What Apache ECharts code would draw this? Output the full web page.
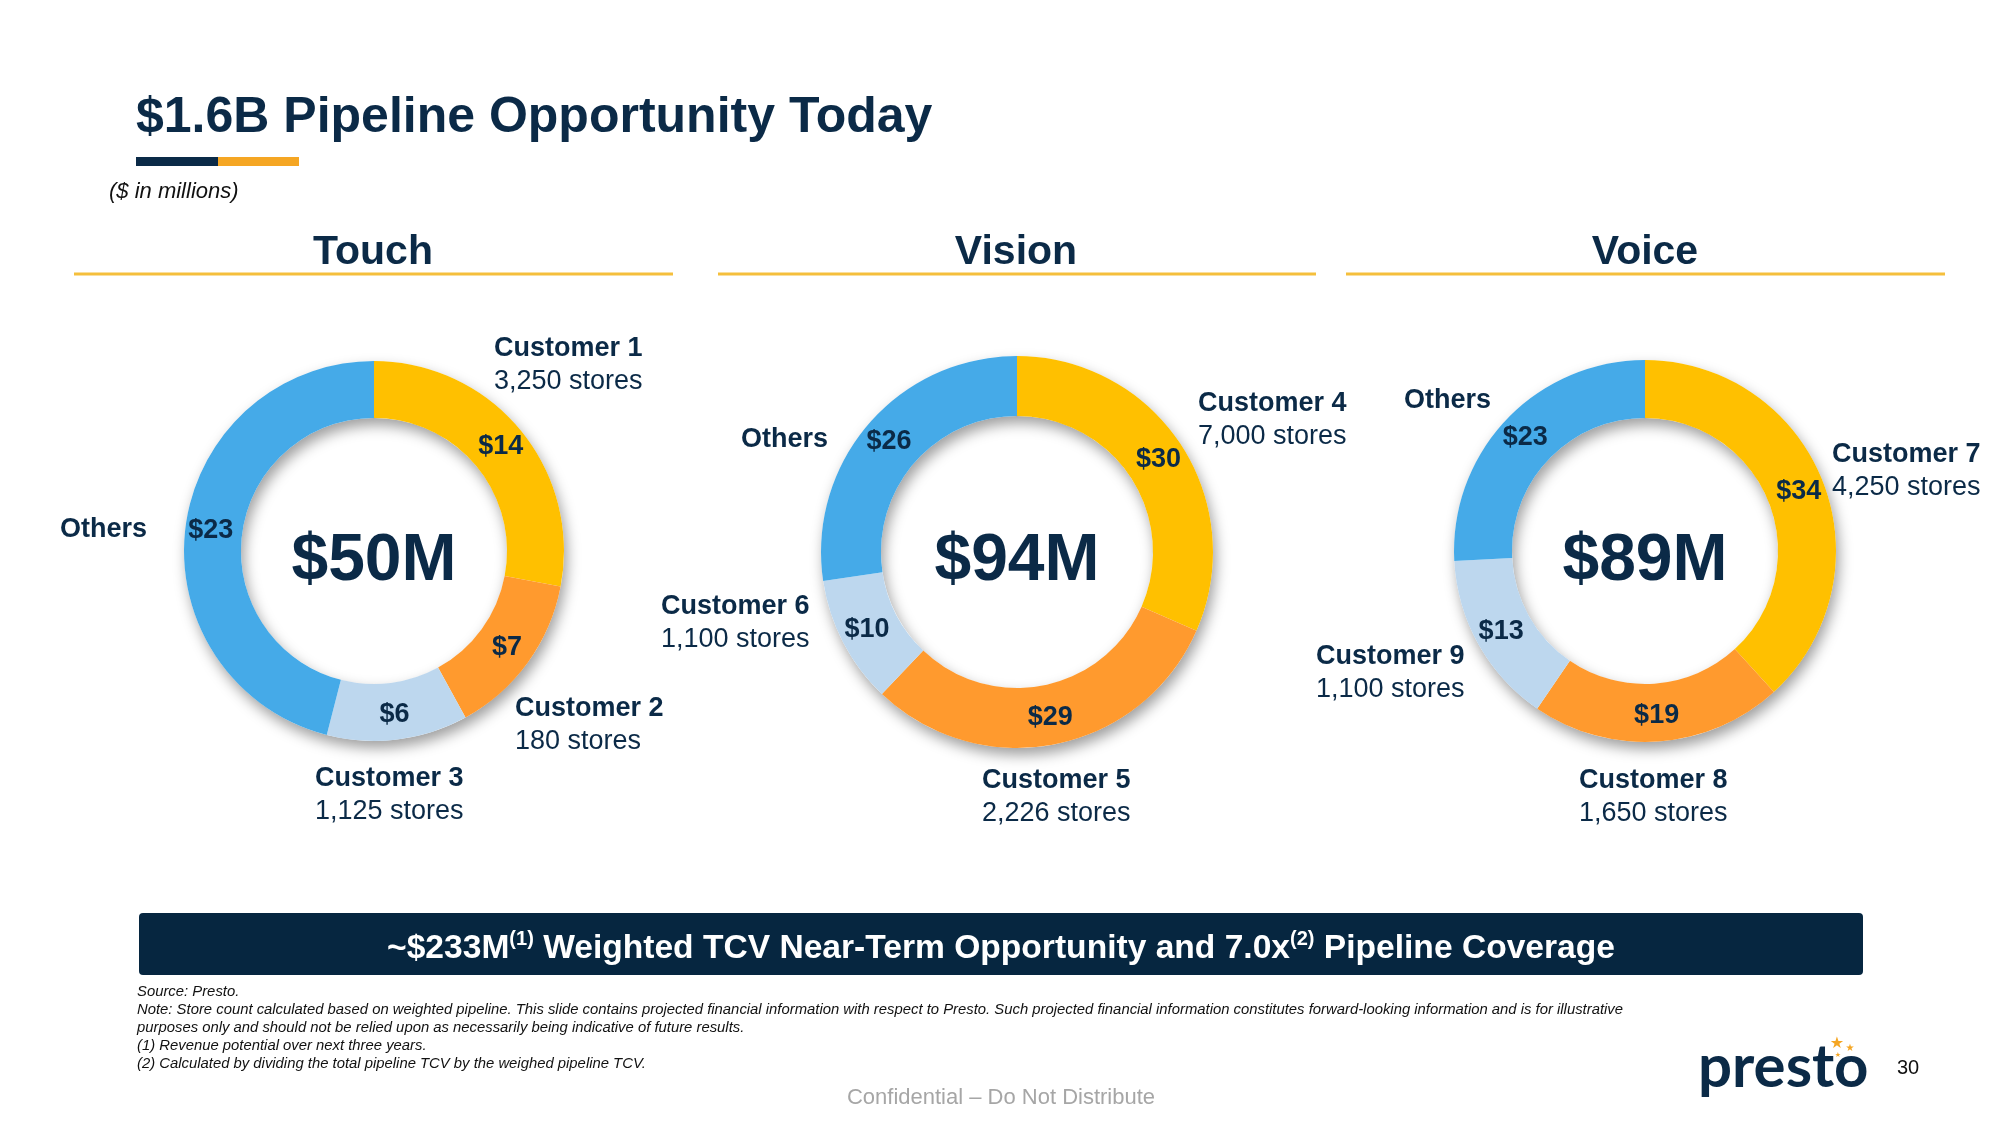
<!DOCTYPE html>
<html>
<head>
<meta charset="utf-8">
<script src="https://cdn.jsdelivr.net/npm/echarts@6/dist/echarts.min.js"></script>
<style>
html,body{margin:0;padding:0;background:#fff;}
#chart{width:2002px;height:1126px;}
</style>
</head>
<body>
<div id="chart"></div>
<script>
// ---------------- DATA ----------------
const pageTitle = '$1.6B Pipeline Opportunity Today';
const unitNote = '($ in millions)';
const panelTitles = ['Touch', 'Vision', 'Voice'];
const totalLabels = ['$50M', '$94M', '$89M'];

const touchNames = ['Customer 1', 'Customer 2', 'Customer 3', 'Others'];
const touchValues = [14, 7, 6, 23];
const touchStores = ['3,250 stores', '180 stores', '1,125 stores', ''];

const visionNames = ['Customer 4', 'Customer 5', 'Customer 6', 'Others'];
const visionValues = [30, 29, 10, 26];
const visionStores = ['7,000 stores', '2,226 stores', '1,100 stores', ''];

const voiceNames = ['Customer 7', 'Customer 8', 'Customer 9', 'Others'];
const voiceValues = [34, 19, 13, 23];
const voiceStores = ['4,250 stores', '1,650 stores', '1,100 stores', ''];

const bannerParts = ['~$233M', '(1)', ' Weighted TCV Near-Term Opportunity and 7.0x', '(2)', ' Pipeline Coverage'];
const footnotes = [
  'Source: Presto.',
  'Note: Store count calculated based on weighted pipeline. This slide contains projected financial information with respect to Presto. Such projected financial information constitutes forward-looking information and is for illustrative',
  'purposes only and should not be relied upon as necessarily being indicative of future results.',
  '(1) Revenue potential over next three years.',
  '(2) Calculated by dividing the total pipeline TCV by the weighed pipeline TCV.'
];
const confidentialText = 'Confidential \u2013 Do Not Distribute';
const pageNumber = '30';
const logoText = 'presto';

// ---------------- STYLE / LAYOUT ----------------
const FONT = '"Liberation Sans", Arial, Helvetica, sans-serif';
const NAVY = '#0B2A47';
const SLICE_COLORS = ['#FFC000', '#FF9A2E', '#BDD7EE', '#45AAE8'];

const panels = [
  { names: touchNames, values: touchValues, stores: touchStores,
    cx: 374, cy: 551, r0: 133, r: 190, headerX: 373, lineX: [74, 673],
    labelPos: [[494, 332], [515, 692], [315, 762], [60, 513]] },
  { names: visionNames, values: visionValues, stores: visionStores,
    cx: 1017, cy: 552, r0: 136, r: 196, headerX: 1016, lineX: [718, 1316],
    labelPos: [[1198, 387], [982, 764], [661, 590], [741, 423]] },
  { names: voiceNames, values: voiceValues, stores: voiceStores,
    cx: 1645, cy: 551, r0: 133, r: 191, headerX: 1645, lineX: [1346, 1945],
    labelPos: [[1832, 438], [1579, 764], [1316, 640], [1404, 384]] }
];

const series = [];
const graphics = [];

panels.forEach((p, k) => {
  const sum = p.values.reduce((a, b) => a + b, 0);
  // shadow ring behind
  series.push({
    type: 'pie', silent: true, z: 1, animation: false,
    center: [p.cx, p.cy], radius: [p.r0, p.r], startAngle: 90,
    label: { show: false }, labelLine: { show: false },
    emphasis: { disabled: true },
    data: [{ value: sum, name: 'shadow', itemStyle: {
      color: '#ffffff', shadowBlur: 14, shadowOffsetX: 3, shadowOffsetY: 7,
      shadowColor: 'rgba(0,0,0,0.38)' } }]
  });
  series.push({
    type: 'pie', silent: true, z: 2, animation: false,
    center: [p.cx, p.cy], radius: [p.r0, p.r], startAngle: 90, clockwise: true,
    avoidLabelOverlap: false,
    emphasis: { disabled: true },
    label: { show: true, position: 'inside', formatter: (d) => '$' + d.value,
      color: NAVY, fontSize: 27, fontWeight: 'bold', fontFamily: FONT },
    labelLine: { show: false },
    data: p.values.map((v, i) => ({ name: p.names[i], value: v,
      itemStyle: { color: SLICE_COLORS[i], borderWidth: 0 } }))
  });

  // header
  graphics.push({ type: 'text', z: 100, x: p.headerX, y: 253,
    style: { text: panelTitles[k], fill: NAVY, font: 'bold 41px ' + FONT,
      align: 'center', verticalAlign: 'middle' } });
  graphics.push({ type: 'line', z: 100,
    shape: { x1: p.lineX[0], y1: 274, x2: p.lineX[1], y2: 274 },
    style: { stroke: '#F5BF3C', lineWidth: 3 } });
  // center total
  graphics.push({ type: 'text', z: 100, x: p.cx, y: 562,
    style: { text: totalLabels[k], fill: NAVY, font: 'bold 66px ' + FONT,
      align: 'center', verticalAlign: 'middle' } });
  // outer labels
  p.names.forEach((n, i) => {
    const txt = p.stores[i] ? '{b|' + n + '}\n{r|' + p.stores[i] + '}' : '{b|' + n + '}';
    graphics.push({ type: 'text', z: 100, x: p.labelPos[i][0], y: p.labelPos[i][1],
      style: { text: txt, align: 'left', verticalAlign: 'top',
        rich: {
          b: { fill: NAVY, fontSize: 27, fontWeight: 'bold', fontFamily: FONT, lineHeight: 33 },
          r: { fill: NAVY, fontSize: 27, fontWeight: 'normal', fontFamily: FONT, lineHeight: 33 }
        } } });
  });
});

// title
graphics.push({ type: 'text', z: 100, x: 136, y: 118,
  style: { text: pageTitle, fill: NAVY, font: 'bold 50px ' + FONT, align: 'left', verticalAlign: 'middle' } });
graphics.push({ type: 'rect', z: 100, shape: { x: 136, y: 157, width: 82, height: 9 }, style: { fill: '#0B2A47' } });
graphics.push({ type: 'rect', z: 100, shape: { x: 218, y: 157, width: 81, height: 9 }, style: { fill: '#F5A623' } });
graphics.push({ type: 'text', z: 100, x: 109, y: 192,
  style: { text: unitNote, fill: '#111', font: 'italic 22px ' + FONT, align: 'left', verticalAlign: 'middle' } });

// banner
graphics.push({ type: 'rect', z: 100, shape: { x: 139, y: 913, width: 1724, height: 62, r: 4 }, style: { fill: '#062640' } });
graphics.push({ type: 'text', z: 101, x: 1001, y: 949,
  style: {
    text: '{m|' + bannerParts[0] + '}{s|' + bannerParts[1] + '}{m|' + bannerParts[2] + '}{s|' + bannerParts[3] + '}{m|' + bannerParts[4] + '}',
    align: 'center', verticalAlign: 'middle',
    rich: {
      m: { fill: '#ffffff', fontSize: 33.6, fontWeight: 'bold', fontFamily: FONT, lineHeight: 40 },
      s: { fill: '#ffffff', fontSize: 20, fontWeight: 'bold', fontFamily: FONT, lineHeight: 26, verticalAlign: 'top' }
    } } });

// footnotes
graphics.push({ type: 'text', z: 100, x: 137, y: 983,
  style: { text: footnotes.join('\n'), fill: '#111', font: 'italic 14.85px ' + FONT,
    lineHeight: 18, align: 'left', verticalAlign: 'top' } });

// confidential
graphics.push({ type: 'text', z: 100, x: 1001, y: 1098,
  style: { text: confidentialText, fill: '#A6A6A6', font: '22px ' + FONT, align: 'center', verticalAlign: 'middle' } });

// logo
graphics.push({ type: 'text', z: 100, x: 1698, y: 1068,
  style: { text: logoText, fill: '#0B2A47', font: 'bold 60px Lato, "Open Sans", sans-serif', align: 'left', verticalAlign: 'middle' } });
graphics.push({ type: 'text', z: 100, x: 1837, y: 1044,
  style: { text: '\u2605', fill: '#F5A623', font: '16px "DejaVu Sans"', align: 'center', verticalAlign: 'middle' } });
graphics.push({ type: 'text', z: 100, x: 1850, y: 1048,
  style: { text: '\u2605', fill: '#F5A623', font: '10px "DejaVu Sans"', align: 'center', verticalAlign: 'middle' } });
graphics.push({ type: 'text', z: 100, x: 1838, y: 1055,
  style: { text: '\u2605', fill: '#F5A623', font: '7px "DejaVu Sans"', align: 'center', verticalAlign: 'middle' } });
// page number
graphics.push({ type: 'text', z: 100, x: 1908, y: 1068,
  style: { text: pageNumber, fill: '#111', font: '20px ' + FONT, align: 'center', verticalAlign: 'middle' } });

const chart = echarts.init(document.getElementById('chart'), null, { renderer: 'canvas', width: 2002, height: 1126 });
chart.setOption({
  backgroundColor: '#ffffff',
  animation: false,
  series: series,
  graphic: { elements: graphics }
});
</script>
</body>
</html>
